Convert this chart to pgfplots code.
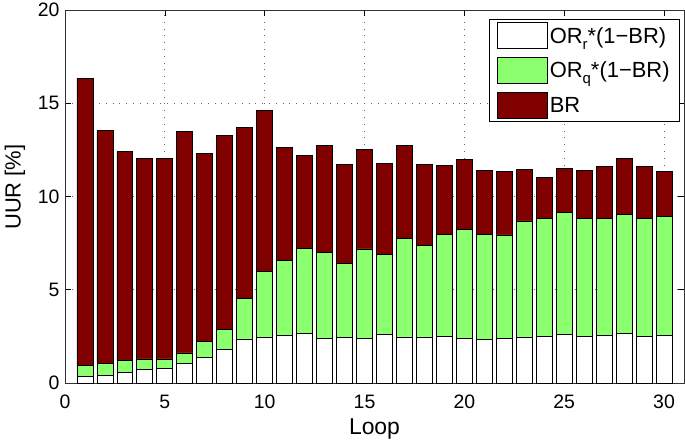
\documentclass[border=0pt]{standalone}
\usepackage{pgfplots}
\pgfplotsset{compat=1.18}
\usepackage{pgfplotstable}
\usepackage{fontspec}
\setmainfont{Liberation Sans}
\definecolor{ubr}{RGB}{128,0,0}
\definecolor{ugreen}{RGB}{140,255,110}
\newcommand{\lsub}[1]{\raisebox{-6bp}{\fontsize{15}{15}\selectfont #1}}

\pgfplotstableread{
loop w g r
1 0.36 0.59 15.38
2 0.41 0.66 12.47
3 0.57 0.66 11.18
4 0.73 0.56 10.76
5 0.80 0.49 10.73
6 1.07 0.54 11.89
7 1.38 0.84 10.08
8 1.81 1.07 10.39
9 2.36 2.15 9.21
10 2.47 3.52 8.61
11 2.54 4.01 6.08
12 2.68 4.55 4.99
13 2.40 4.58 5.77
14 2.43 3.99 5.28
15 2.38 4.81 5.31
16 2.59 4.31 4.85
17 2.47 5.26 5.01
18 2.47 4.92 4.33
19 2.50 5.48 3.68
20 2.40 5.85 3.74
21 2.33 5.65 3.40
22 2.41 5.53 3.40
23 2.47 6.22 2.76
24 2.52 6.32 2.20
25 2.61 6.53 2.34
26 2.52 6.32 2.54
27 2.54 6.30 2.77
28 2.65 6.40 3.01
29 2.50 6.34 2.79
30 2.54 6.39 2.41
}\uur

\begin{document}
\begin{tikzpicture}
\begin{axis}[
  scale only axis,
  width=619bp, height=373bp,
  xmin=0, xmax=31, ymin=0, ymax=20,
  xtick={0,5,...,30}, ytick={0,5,...,20},
  tick align=inside,
  major tick length=6bp,
  tick style={black, line width=0.6bp},
  axis line style={black!80, line width=0.9bp},
  grid=major,
  major grid style={black!60, line width=0.7bp, dash pattern=on 0.8bp off 6bp},
  /pgf/number format/assume math mode=true,
  ticklabel style={font=\fontsize{19.5}{19.5}\selectfont},
  xticklabel style={anchor=base, yshift=-25bp},
  yticklabel style={xshift=-2bp},
  every axis x label/.style={at={(axis description cs:0.5,-0.1394)}, anchor=base, font=\fontsize{23}{23}\selectfont},
  every axis y label/.style={at={(axis description cs:-0.0808,0.525)}, rotate=90, anchor=center, font=\fontsize{22}{22}\selectfont},
  xlabel={Loop},
  ylabel={UUR [\%]},
  ybar stacked,
  bar width=0.8,
  legend image code/.code={\draw[#1,draw=black,line width=0.8bp] (0bp,-13bp) rectangle (50bp,13bp);},
  legend cell align=left,
  legend style={at={(rel axis cs:1,1)}, anchor=north east, xshift=-4bp, yshift=-9bp,
    draw=black, line width=0.9bp, font=\fontsize{22}{22}\selectfont,
    row sep=8bp, inner xsep=8bp, inner ysep=3bp,
    /tikz/every even column/.append style={column sep=0bp}},
]
\addplot[fill=white, draw=black, line width=0.8bp] table[x=loop,y=w]{\uur};
\addplot[fill=ugreen, draw=black, line width=0.8bp] table[x=loop,y=g]{\uur};
\addplot[fill=ubr, draw=black, line width=0.8bp] table[x=loop,y=r]{\uur};
\legend{OR\lsub{r}*(1−BR), OR\lsub{q}*(1−BR), BR}
\end{axis}
\pgfresetboundingbox
\path ([xshift=-65bp,yshift=-58bp]current axis.south west) rectangle ([xshift=1bp,yshift=10bp]current axis.north east);
\end{tikzpicture}
\end{document}
